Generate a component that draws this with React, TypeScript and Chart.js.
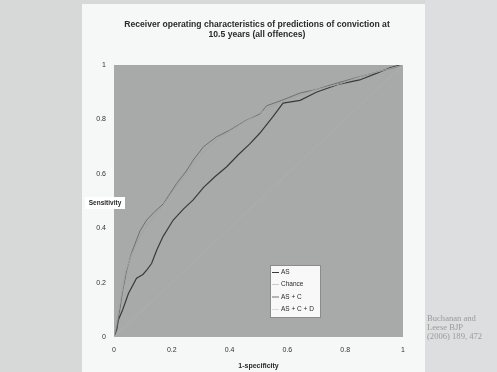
import React, { useEffect, useRef } from "react";
import { Chart, registerables } from "chart.js";

Chart.register(...registerables);

const titleLines = [
  "Receiver operating characteristics of predictions of conviction at",
  "10.5 years (all offences)",
];
const xAxisTitle = "1-specificity";
const yAxisTitle = "Sensitivity";
const tickValues = [0, 0.2, 0.4, 0.6, 0.8, 1];
const tickLabels = ["0", "0.2", "0.4", "0.6", "0.8", "1"];
const legendLabels = ["AS", "Chance", "AS + C", "AS + C + D"];
const citationLines = ["Buchanan and", "Leese BJP", "(2006) 189, 472"];

const asX = [0, 0.01, 0.015, 0.03, 0.05, 0.078, 0.1, 0.113, 0.13, 0.148, 0.17, 0.205, 0.24, 0.274, 0.31, 0.35, 0.39, 0.43, 0.47, 0.505, 0.55, 0.585, 0.644, 0.7, 0.78, 0.85, 0.91, 0.955, 0.99, 1];
const asY = [0, 0.03, 0.0625, 0.1, 0.16, 0.216, 0.23, 0.246, 0.27, 0.32, 0.37, 0.43, 0.47, 0.504, 0.55, 0.59, 0.626, 0.67, 0.71, 0.75, 0.81, 0.86, 0.87, 0.9, 0.93, 0.945, 0.97, 0.99, 1, 1];

const chanceX = [0, 1];
const chanceY = [0, 1];

const ascX = [0, 0.01, 0.02, 0.03, 0.044, 0.061, 0.09, 0.113, 0.14, 0.171, 0.217, 0.25, 0.274, 0.31, 0.355, 0.4, 0.459, 0.505, 0.528, 0.58, 0.644, 0.7, 0.76, 0.85, 0.93, 0.97, 1];
const ascY = [0, 0.04, 0.1, 0.17, 0.246, 0.31, 0.39, 0.43, 0.46, 0.49, 0.565, 0.61, 0.65, 0.7, 0.736, 0.76, 0.798, 0.82, 0.85, 0.87, 0.897, 0.91, 0.93, 0.957, 0.98, 0.99, 1];

const ascdX = [0, 0.02, 0.04, 0.06, 0.09, 0.12, 0.16, 0.2, 0.25, 0.3, 0.36, 0.42, 0.48, 0.55, 0.62, 0.7, 0.78, 0.86, 0.93, 1];
const ascdY = [0, 0.12, 0.24, 0.3, 0.37, 0.42, 0.47, 0.53, 0.6, 0.67, 0.73, 0.77, 0.81, 0.85, 0.88, 0.91, 0.93, 0.96, 0.98, 1];

const seriesColors = ["#3a3a3a", "#adafae", "#6e706f", "#a2a4a3"];

const toPoints = (xs: number[], ys: number[]) => xs.map((x, i) => ({ x, y: ys[i] }));

const W = 497;
const H = 372;
const PLOT_L = 114;
const PLOT_R = 403;
const PLOT_T = 65;
const PLOT_B = 337;

const decorPlugin = {
  id: "decor",
  beforeDraw(chart: any) {
    const ctx = chart.ctx;
    const ca = chart.chartArea;
    ctx.save();
    ctx.fillStyle = "#d7d9d9";
    ctx.fillRect(0, 0, W, H);
    ctx.fillStyle = "#f6f7f7";
    ctx.fillRect(82, 4, 343, H - 4);
    ctx.fillStyle = "#dcdedf";
    ctx.fillRect(425, 0, W - 425, H);
    ctx.fillStyle = "#a8aaa9";
    ctx.fillRect(ca.left, ca.top, ca.right - ca.left, ca.bottom - ca.top);
    ctx.restore();
  },
  afterDraw(chart: any) {
    const ctx = chart.ctx;
    const ca = chart.chartArea;
    ctx.save();
    // title
    ctx.fillStyle = "#2a2a2a";
    ctx.font = "bold 8.6px 'Liberation Sans', Arial, sans-serif";
    ctx.textAlign = "center";
    ctx.textBaseline = "middle";
    ctx.fillText(titleLines[0], 257, 25);
    ctx.fillText(titleLines[1], 257, 34.5);
    // x axis title
    ctx.font = "bold 7px 'Liberation Sans', Arial, sans-serif";
    ctx.fillText(xAxisTitle, (ca.left + ca.right) / 2, 366);
    // y axis title with white box
    ctx.fillStyle = "#ffffff";
    ctx.fillRect(85, 197, 40, 12);
    ctx.fillStyle = "#2a2a2a";
    ctx.font = "bold 6.5px 'Liberation Sans', Arial, sans-serif";
    ctx.fillText(yAxisTitle, 105, 203);
    // legend
    const lx = 270, ly = 265, lw = 50, lh = 52;
    ctx.fillStyle = "#f8f8f8";
    ctx.fillRect(lx, ly, lw, lh);
    ctx.strokeStyle = "#8a8c8b";
    ctx.lineWidth = 1;
    ctx.strokeRect(lx + 0.5, ly + 0.5, lw, lh);
    ctx.font = "6.5px 'Liberation Sans', Arial, sans-serif";
    ctx.textAlign = "left";
    const ys = [272.5, 284.5, 297, 309.5];
    legendLabels.forEach((lab, i) => {
      ctx.strokeStyle = i === 1 ? "#c9cbca" : i === 3 ? "#d8d9d9" : seriesColors[i];
      ctx.beginPath();
      ctx.moveTo(272, ys[i]);
      ctx.lineTo(279, ys[i]);
      ctx.stroke();
      ctx.fillStyle = "#2a2a2a";
      ctx.fillText(lab, 281, ys[i]);
    });
    // citation
    ctx.fillStyle = "#9a9c9c";
    ctx.font = "8.6px 'Liberation Serif', 'DejaVu Serif', serif";
    citationLines.forEach((t, i) => ctx.fillText(t, 427, 319 + i * 9));
    ctx.restore();
  },
};

export default function App() {
  const ref = useRef<HTMLCanvasElement | null>(null);
  useEffect(() => {
    document.body.style.margin = "0";
    const canvas = ref.current;
    if (!canvas) return;
    const mkDs = (label: string, xs: number[], ys: number[], color: string, width: number) => ({
      label,
      data: toPoints(xs, ys),
      borderColor: color,
      backgroundColor: color,
      borderWidth: width,
      pointRadius: 0,
      tension: 0,
      fill: false,
    });
    const chart = new Chart(canvas, {
      type: "line",
      data: {
        datasets: [
          mkDs(legendLabels[1], chanceX, chanceY, seriesColors[1], 1),
          mkDs(legendLabels[3], ascdX, ascdY, seriesColors[3], 1),
          mkDs(legendLabels[2], ascX, ascY, seriesColors[2], 1),
          mkDs(legendLabels[0], asX, asY, seriesColors[0], 1.2),
        ],
      },
      options: {
        animation: false,
        responsive: false,
        maintainAspectRatio: false,
        layout: { padding: { left: 0, top: PLOT_T, right: W - PLOT_R, bottom: 0 } },
        plugins: { legend: { display: false }, title: { display: false }, tooltip: { enabled: false } },
        scales: {
          x: {
            type: "linear",
            min: 0,
            max: 1,
            afterFit: (s: any) => { s.height = H - PLOT_B; },
            afterBuildTicks: (s: any) => { s.ticks = tickValues.map((v) => ({ value: v })); },
            grid: { display: false, drawTicks: false },
            border: { display: false },
            ticks: {
              padding: 9,
              maxRotation: 0,
              color: "#333",
              font: { size: 7, family: "'Liberation Sans', Arial, sans-serif" },
              callback: (v: any) => tickLabels[tickValues.indexOf(Number(v))] ?? "",
            },
          },
          y: {
            type: "linear",
            min: 0,
            max: 1,
            afterFit: (s: any) => { s.width = PLOT_L; },
            afterBuildTicks: (s: any) => { s.ticks = tickValues.map((v) => ({ value: v })); },
            grid: { display: false, drawTicks: false },
            border: { display: false },
            ticks: {
              padding: 8,
              color: "#333",
              font: { size: 7, family: "'Liberation Sans', Arial, sans-serif" },
              callback: (v: any) => tickLabels[tickValues.indexOf(Number(v))] ?? "",
            },
          },
        },
      },
      plugins: [decorPlugin],
    } as any);
    return () => chart.destroy();
  }, []);
  return (
    <div style={{ position: "absolute", left: 0, top: 0, width: W, height: H }}>
      <canvas ref={ref} width={W} height={H} style={{ display: "block" }} />
    </div>
  );
}
